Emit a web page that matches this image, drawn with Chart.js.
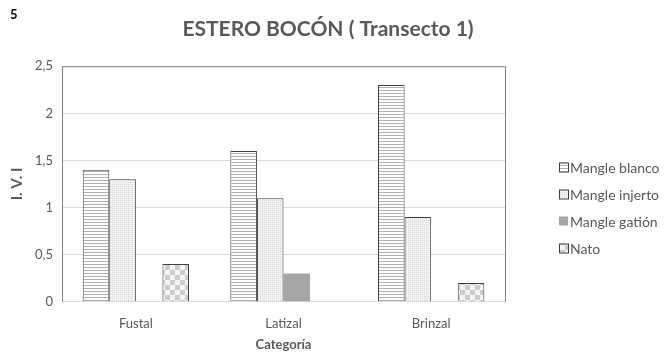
<!DOCTYPE html>
<html><head><meta charset="utf-8">
<script src="https://cdn.jsdelivr.net/npm/chart.js@4.4.0/dist/chart.umd.min.js"></script>
<style>
html,body{margin:0;padding:0;background:#fff;}
#wrap{position:relative;width:672px;height:357px;}
#num{position:absolute;left:10px;top:6px;font:bold 13px Lato,"Open Sans",sans-serif;color:#000;}
</style></head>
<body>
<div id="wrap"><div id="num">5</div><canvas id="c" width="672" height="357"></canvas></div>
<script>
const categories = ["Fustal", "Latizal", "Brinzal"];
const seriesNames = ["Mangle blanco", "Mangle injerto", "Mangle gatión", "Nato"];
const mangleBlanco = [1.4, 1.6, 2.3];
const mangleInjerto = [1.3, 1.1, 0.9];
const mangleGation = [0, 0.3, 0];
const nato = [0.4, 0, 0.2];
const yTicks = [0, 0.5, 1, 1.5, 2, 2.5];

function makePattern(kind){
  const c = document.createElement('canvas');
  const g = c.getContext('2d');
  if(kind==='h'){
    c.width=4;c.height=3;
    g.fillStyle='#ffffff';g.fillRect(0,0,4,3);
    g.fillStyle='#b0b0b0';g.fillRect(0,0,4,1);
  } else if(kind==='d'){
    c.width=4;c.height=4;
    g.fillStyle='#f2f2f2';g.fillRect(0,0,4,4);
    g.fillStyle='#d4d4d4';g.fillRect(0,0,1,1);g.fillRect(2,2,1,1);
    g.fillStyle='#e2e2e2';g.fillRect(2,0,1,1);g.fillRect(0,2,1,1);
  } else if(kind==='k'){
    c.width=10;c.height=10;
    g.fillStyle='#f4f4f4';g.fillRect(0,0,10,10);
    g.fillStyle='#cccccc';g.fillRect(0,0,5,5);g.fillRect(5,5,5,5);
  }
  return g.createPattern(c,'repeat');
}
const fills = [makePattern('h'), makePattern('d'), '#a6a6a6', makePattern('k')];
const borders = ['#404040','#404040','#a6a6a6','#404040'];
const seriesData = [mangleBlanco, mangleInjerto, mangleGation, nato];

const FONT = 'Lato, "Open Sans", sans-serif';
const GREY = '#595959';

const boxPlugin = {
  id:'box',
  afterDraw(chart){
    const a = chart.chartArea, ctx = chart.ctx;
    ctx.save();
    ctx.strokeStyle='#7f7f7f';ctx.lineWidth=1;
    ctx.beginPath();
    ctx.moveTo(a.left+0.5,a.top+0.5);ctx.lineTo(a.right+0.5,a.top+0.5);ctx.lineTo(a.right+0.5,a.bottom);
    ctx.moveTo(a.left+0.5,a.top);ctx.lineTo(a.left+0.5,a.bottom);
    ctx.stroke();
    // legend
    ctx.font = '14px ' + FONT;
    ctx.textBaseline='middle';
    chart.data.datasets.forEach((d,i)=>{
      const y = 167 + 27*i;
      const bx = 559;
      ctx.fillStyle = d.backgroundColor;
      ctx.fillRect(bx, y-4.5, 9, 9);
      if(i!==2){ctx.strokeStyle='#404040';ctx.strokeRect(bx+0.5, y-4.5+0.5, 9, 9);}
      ctx.fillStyle = GREY;
      ctx.fillText(d.label, bx+11, y+1);
    });
    ctx.restore();
  }
};

new Chart(document.getElementById('c'), {
  type:'bar',
  data:{
    labels:categories,
    datasets: seriesNames.map((n,i)=>({
      label:n, data:seriesData[i], backgroundColor:fills[i],
      borderColor:borders[i], borderWidth: i===2?0:1,
      categoryPercentage:0.72, barPercentage:1
    }))
  },
  options:{
    responsive:false, animation:false,
    layout:{padding:{left:0,right:16,top:0,bottom:4}},
    plugins:{
      title:{display:true,text:'ESTERO BOCÓN ( Transecto 1)',color:GREY,
        font:{family:FONT,size:21,weight:'bold'},padding:{top:17,bottom:24}},
      legend:{display:false},
      tooltip:{enabled:false}
    },
    scales:{
      x:{grid:{display:false},border:{color:'#d9d9d9'},
        ticks:{color:GREY,font:{family:FONT,size:13},padding:6},
        title:{display:true,text:'Categoría',color:GREY,font:{family:FONT,size:13,weight:'bold'},padding:{top:0,bottom:0}}},
      y:{min:0,max:2.5,
        afterBuildTicks(s){s.ticks=yTicks.map(v=>({value:v}));},
        grid:{color:'#d9d9d9',drawTicks:false},border:{display:false},
        ticks:{color:GREY,font:{family:FONT,size:13},padding:9,
          callback:v=>String(v).replace('.',',')},
        title:{display:true,text:'I. V. I',color:GREY,font:{family:FONT,size:15,weight:'bold'},padding:{top:8,bottom:0}}},
      y2:{position:'right',display:true,grid:{display:false},border:{display:false},
        ticks:{display:false},afterFit(s){s.width=151;}}
    }
  },
  plugins:[boxPlugin]
});
</script>
</body></html>
